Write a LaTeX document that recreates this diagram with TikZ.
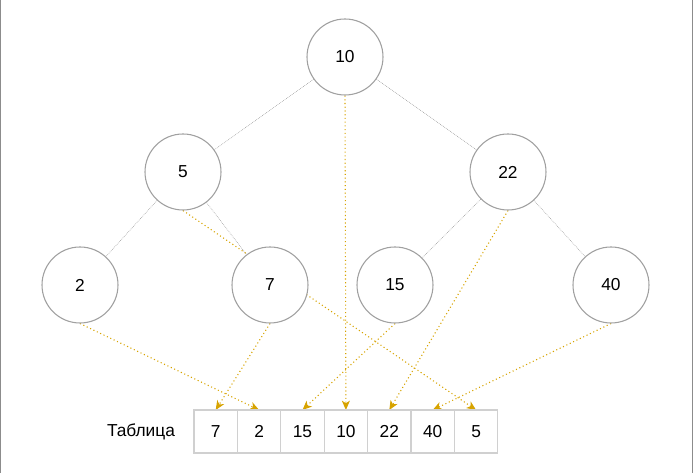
\documentclass[tikz,border=0pt]{standalone}
\usepackage{fontspec}
\setmainfont{Liberation Sans}
\usetikzlibrary{arrows.meta,backgrounds}
\definecolor{arrowgold}{RGB}{215,163,0}
\definecolor{circlegray}{RGB}{160,160,160}
\definecolor{cellgray}{RGB}{208,208,208}
\definecolor{edgegray}{RGB}{150,150,150}
\definecolor{framegray}{RGB}{140,140,140}
\tikzset{
  treenode/.style={circle,draw=circlegray,line width=0.8pt,fill=white,minimum size=57pt,inner sep=0pt,font=\fontsize{13}{15}\selectfont},
  cellbox/.style={rectangle,draw=cellgray,line width=0.9pt,fill=white,minimum width=32.55pt,minimum height=32.25pt,inner sep=0pt,outer sep=0pt,font=\fontsize{13}{15}\selectfont},
  treeedge/.style={draw=edgegray,line width=0.4pt,dash pattern=on 0.5pt off 0.8pt},
  maparrow/.style={draw=arrowgold,line width=0.8pt,dash pattern=on 0.8pt off 2pt,-{Stealth[length=7pt,width=6pt,inset=2pt]}},
}
\begin{document}
\begin{tikzpicture}[x=0.75pt,y=-0.75pt]
\useasboundingbox (0,0) rectangle (694,473);
\draw[framegray,line width=1pt] (0.6,0) -- (0.6,473);
\draw[framegray,line width=1pt] (692.4,0) -- (692.4,473);
% tree
\node[treenode] (n10) at (345,57) {10};
\node[treenode] (n5) at (183,172) {5};
\node[treenode] (n22) at (508,172) {22};
\node[treenode] (n2) at (80,285) {2};
\node[treenode] (n7) at (270,285) {7};
\node[treenode] (n15) at (395,285) {15};
\node[treenode] (n40) at (611,285) {40};
% table
\node[font=\fontsize{13}{15}\selectfont] (lbl) at (141,432) {Таблица};
\node[cellbox] (c1) at (215.7,431.5) {7};
\node[cellbox] (c2) at (259.1,431.5) {2};
\node[cellbox] (c3) at (302.5,431.5) {15};
\node[cellbox] (c4) at (345.9,431.5) {10};
\node[cellbox] (c5) at (389.3,431.5) {22};
\node[cellbox] (c6) at (432.7,431.5) {40};
\node[cellbox] (c7) at (476.1,431.5) {5};
\begin{scope}[on background layer]
\draw[treeedge] (n10) -- (n5);
\draw[treeedge] (n10) -- (n22);
\draw[treeedge] (n5) -- (n2);
\draw[treeedge] (n5) -- (n7);
\draw[treeedge] (n22) -- (n15);
\draw[treeedge] (n22) -- (n40);
\draw[maparrow] (n10.south) -- (c4.north);
\draw[maparrow] (n2.south) -- (c2.north);
\draw[maparrow] (n7.south) -- (c1.north);
\draw[maparrow] (n5.south) -- (c7.north);
\draw[maparrow] (n15.south) -- (c3.north);
\draw[maparrow] (n22.south) -- (c5.north);
\draw[maparrow] (n40.south) -- (c6.north);
\end{scope}
\end{tikzpicture}
\end{document}
